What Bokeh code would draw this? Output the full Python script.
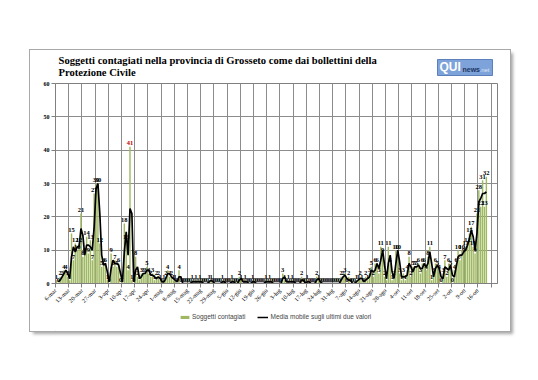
import numpy as np
import pandas as pd
from math import pi
from bokeh.plotting import figure
from bokeh.layouts import column
from bokeh.models import ColumnDataSource, FixedTicker, Label, Legend, LegendItem, Range1d
from bokeh.core.properties import value
from bokeh.embed import file_html
from bokeh.resources import INLINE

# Daily values, 6 March -> 20 October
contagiati = [
    1, 0, 2, 2, 4, 4, 2, 1, 15, 7,
    12, 10, 12, 21, 8, 9, 14, 9, 13, 7,
    27, 30, 30, 12, 5, 6, 6, 1, 0, 9,
    5, 7, 5, 6, 0, 1, 18, 13, 4, 41,
    1, 0, 8, 2, 1, 3, 3, 3, 5, 3,
    2, 3, 1, 2, 2, 1, 0, 1, 2, 4,
    2, 2, 1, 1, 0, 4, 0, 0, 0, 0,
    0, 0, 1, 0, 1, 0, 1, 0, 0, 0,
    0, 1, 1, 0, 0, 0, 0, 0, 1, 0,
    0, 0, 0, 1, 0, 0, 0, 2, 1, 0,
    1, 0, 0, 0, 1, 0, 0, 0, 0, 0,
    0, 1, 0, 1, 0, 0, 0, 0, 0, 0,
    3, 1, 0, 1, 0, 1, 0, 0, 0, 0,
    2, 0, 0, 1, 0, 0, 0, 0, 2, 1,
    0, 0, 0, 0, 0, 0, 0, 0, 0, 0,
    0, 2, 2, 3, 0, 2, 0, 0, 0, 1,
    1, 2, 1, 0, 2, 1, 3, 5, 2, 6,
    6, 3, 11, 9, 2, 1, 11, 6, 1, 2,
    10, 10, 3, 1, 3, 1, 4, 8, 2, 5,
    5, 5, 6, 3, 6, 6, 4, 8, 11, 1,
    3, 6, 5, 4, 0, 3, 7, 2, 6, 5,
    0, 4, 6, 10, 7, 10, 9, 11, 12, 15,
    17, 11, 9, 21, 28, 23, 31, 23, 32,
]

tick_labels = [
    "6-mar", "13-mar", "20-mar", "27-mar", "3-apr", "10-apr", "17-apr", "24-apr",
    "1-mag", "8-mag", "15-mag", "22-mag", "29-mag", "5-giu", "12-giu", "19-giu",
    "26-giu", "3-lug", "10-lug", "17-lug", "24-lug", "31-lug", "7-ago", "14-ago",
    "21-ago", "28-ago", "4-set", "11-set", "18-set", "25-set", "2-ott", "9-ott",
    "16-ott", "",
]

title_lines = [
    "Soggetti contagiati  nella provincia di Grosseto come dai bollettini della",
    "Protezione Civile",
]
series_names = ["Soggetti contagiati", "Media mobile sugli ultimi due valori"]

BAR_COLOR = "#9fb862"
BL, BR = 25, 13   # side borders shared by the stacked figures

days = np.arange(len(contagiati))
xs = days + 0.5
media = pd.Series(contagiati, dtype=float).rolling(2).mean()
peak = max(contagiati)

src = ColumnDataSource(dict(x=xs, y=contagiati))
lbl_src = ColumnDataSource(dict(
    x=[x for x, v in zip(xs, contagiati) if v != peak],
    y=[v for v in contagiati if v != peak],
    t=[str(v) for v in contagiati if v != peak]))
peak_src = ColumnDataSource(dict(
    x=[x for x, v in zip(xs, contagiati) if v == peak],
    y=[v for v in contagiati if v == peak],
    t=[str(v) for v in contagiati if v == peak]))
line_src = ColumnDataSource(dict(x=xs[1:], y=media.values[1:]))


def blank(h):
    f = figure(width=480, height=h, x_range=Range1d(0, 442), y_range=Range1d(0, h),
               x_axis_type=None, y_axis_type=None,
               min_border_left=BL, min_border_right=BR, min_border_top=0, min_border_bottom=0,
               toolbar_location=None, output_backend="svg",
               outline_line_color=None, background_fill_color="white",
               border_fill_color="white")
    return f


# ---- header (title + logo)
head = blank(31)
head.add_layout(Label(x=3, y=15.5, x_units="screen", y_units="screen", text=title_lines[0],
                      text_font="Liberation Serif", text_font_style="bold",
                      text_font_size="10.6px", text_color="black"))
head.add_layout(Label(x=3, y=4, x_units="screen", y_units="screen", text=title_lines[1],
                      text_font="Liberation Serif", text_font_style="bold",
                      text_font_size="10.6px", text_color="black"))
head.quad(left=[382], right=[437], bottom=[6], top=[22],
          fill_color="#7ea3da", line_color="#5b80bb")
head.add_layout(Label(x=384, y=8, x_units="screen", y_units="screen", text="QUI",
                      text_font="Liberation Sans", text_font_style="bold",
                      text_font_size="12px", text_color="white"))
head.add_layout(Label(x=407, y=9, x_units="screen", y_units="screen", text="news",
                      text_font="Liberation Sans", text_font_style="bold",
                      text_font_size="7px", text_color="#1d3461"))
head.add_layout(Label(x=424, y=9, x_units="screen", y_units="screen", text=".net",
                      text_font="Liberation Sans",
                      text_font_size="6px", text_color="#dfe8f6"))

# ---- main chart
p = figure(width=480, height=228,
           x_range=Range1d(0, 234.4), y_range=Range1d(0, 60),
           output_backend="svg", toolbar_location=None,
           min_border_left=BL, min_border_right=BR,
           min_border_top=2, min_border_bottom=24,
           background_fill_color="white", border_fill_color="white",
           outline_line_color="#808080")

tick_pos = [7 * k for k in range(len(tick_labels))]
p.xaxis.ticker = FixedTicker(ticks=tick_pos)
p.xgrid.ticker = FixedTicker(ticks=tick_pos)
p.xaxis.major_label_overrides = {t: lab for t, lab in zip(tick_pos, tick_labels)}
p.yaxis.ticker = FixedTicker(ticks=list(range(0, 61, 10)))
p.ygrid.ticker = FixedTicker(ticks=list(range(0, 61, 10)))

for g in (p.xgrid, p.ygrid):
    g.grid_line_color = "#8c8c8c"
    g.grid_line_width = 1

for ax in (p.xaxis, p.yaxis):
    ax.axis_line_color = "#808080"
    ax.major_tick_line_color = "#808080"
    ax.minor_tick_line_color = None
    ax.major_tick_in = 0
    ax.major_tick_out = 4
    ax.major_label_standoff = 2
    ax.major_label_text_font = "Liberation Serif"
    ax.major_label_text_color = "black"

p.xaxis.major_label_orientation = pi / 4
p.xaxis.major_label_text_font_size = "6px"
p.yaxis.major_label_text_font_size = "6px"
p.yaxis.major_label_text_font_style = "bold"

p.vbar(x="x", top="y", width=0.75, source=src, fill_color=BAR_COLOR, line_color=None)
p.line(x="x", y="y", source=line_src, line_color="black", line_width=1.7)

p.text(x="x", y="y", text="t", source=lbl_src, text_color="black",
       text_font=value("Liberation Serif"), text_font_size="6.5px",
       text_font_style="bold", text_align="center", text_baseline="bottom",
       y_offset=-1.5)
p.text(x="x", y="y", text="t", source=peak_src, text_color="#C00000",
       text_font=value("Liberation Serif"), text_font_size="6.5px",
       text_font_style="bold", text_align="center", text_baseline="bottom",
       y_offset=-1.5)

# ---- footer (legend); its renderers sit outside the visible range
foot = blank(22)
lb = foot.vbar(x=[-50], top=[1], width=1, fill_color=BAR_COLOR, line_color=None)
ll = foot.line(x=[-60, -50], y=[1, 1], line_color="black", line_width=1.5)
legend = Legend(items=[LegendItem(label=series_names[0], renderers=[lb]),
                       LegendItem(label=series_names[1], renderers=[ll])],
                location=(124, 11), orientation="horizontal",
                glyph_width=11, glyph_height=4, label_standoff=2, spacing=12,
                label_height=6,
                label_text_font="Liberation Sans", label_text_font_size="6.5px",
                background_fill_alpha=0, border_line_alpha=0, padding=0, margin=0)
foot.add_layout(legend)

page = column(head, p, foot, margin=(50, 0, 0, 30), spacing=0,
              styles={"outline": "1px solid #a8a8a8",
                      "box-shadow": "3px 3px 3px rgba(0,0,0,0.35)"})

open("out.html", "w").write(file_html(page, INLINE))
